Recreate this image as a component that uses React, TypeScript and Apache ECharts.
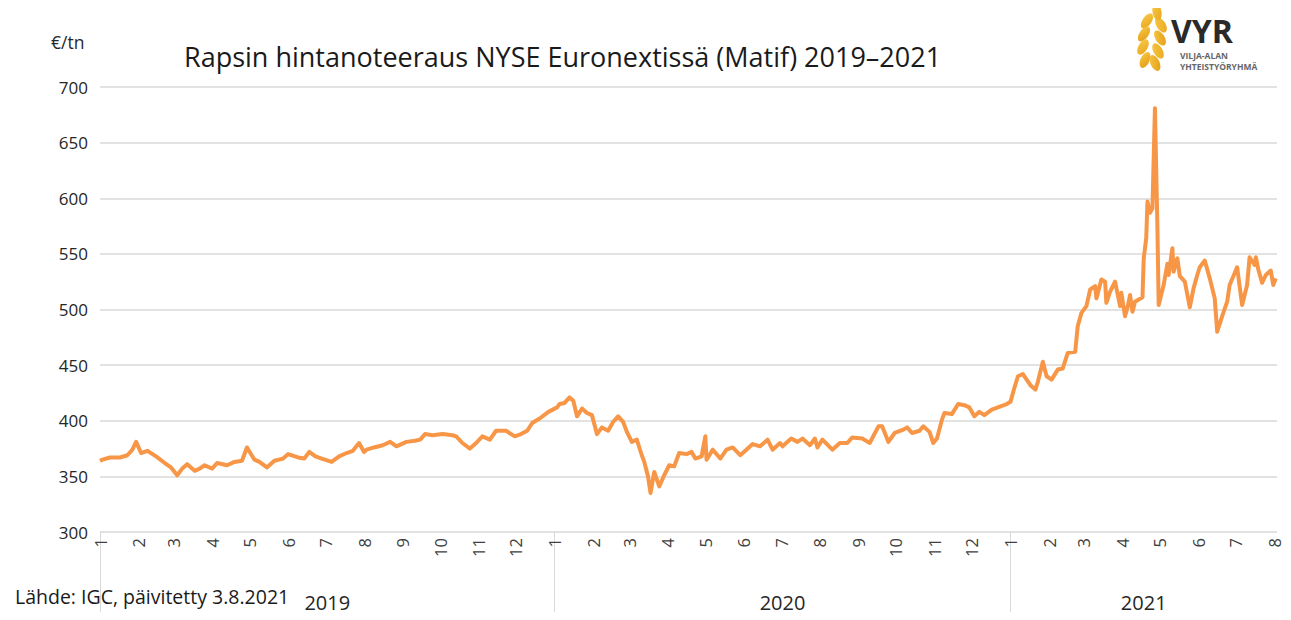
import React, { useEffect, useRef } from "react";
import * as echarts from "echarts";

const priceDates = [
  "2019-01-01","2019-01-03","2019-01-09","2019-01-17","2019-01-23","2019-01-27","2019-01-30","2019-02-03","2019-02-08","2019-02-15",
  "2019-02-22","2019-02-27","2019-03-04","2019-03-08","2019-03-12","2019-03-18","2019-03-22","2019-03-26","2019-04-01","2019-04-05",
  "2019-04-13","2019-04-19","2019-04-25","2019-04-29","2019-05-05","2019-05-09","2019-05-15","2019-05-21","2019-05-28","2019-06-01",
  "2019-06-09","2019-06-14","2019-06-18","2019-06-23","2019-06-28","2019-07-06","2019-07-12","2019-07-18","2019-07-23","2019-07-28",
  "2019-08-01","2019-08-03","2019-08-09","2019-08-16","2019-08-22","2019-08-27","2019-09-04","2019-09-11","2019-09-15","2019-09-19",
  "2019-09-25","2019-10-03","2019-10-11","2019-10-14","2019-10-19","2019-10-25","2019-10-30","2019-11-04","2019-11-10","2019-11-15",
  "2019-11-23","2019-11-30","2019-12-05","2019-12-10","2019-12-14","2019-12-20","2019-12-27","2020-01-03","2020-01-05","2020-01-09",
  "2020-01-13","2020-01-16","2020-01-19","2020-01-23","2020-01-27","2020-01-31","2020-02-04","2020-02-08","2020-02-13","2020-02-17",
  "2020-02-21","2020-02-25","2020-02-28","2020-03-03","2020-03-07","2020-03-11","2020-03-13","2020-03-16","2020-03-18","2020-03-21",
  "2020-03-25","2020-03-29","2020-04-02","2020-04-06","2020-04-10","2020-04-16","2020-04-20","2020-04-23","2020-04-28","2020-05-01",
  "2020-05-02","2020-05-07","2020-05-13","2020-05-18","2020-05-23","2020-05-29","2020-06-03","2020-06-08","2020-06-14","2020-06-20",
  "2020-06-24","2020-06-30","2020-07-02","2020-07-09","2020-07-14","2020-07-18","2020-07-24","2020-07-28","2020-07-30","2020-08-03",
  "2020-08-11","2020-08-17","2020-08-23","2020-08-27","2020-09-04","2020-09-10","2020-09-17","2020-09-20","2020-09-25","2020-09-30",
  "2020-10-07","2020-10-10","2020-10-14","2020-10-20","2020-10-23","2020-10-28","2020-10-31","2020-11-03","2020-11-07","2020-11-09",
  "2020-11-15","2020-11-20","2020-11-25","2020-11-29","2020-12-03","2020-12-07","2020-12-11","2020-12-17","2020-12-24","2020-12-29",
  "2021-01-01","2021-01-04","2021-01-07","2021-01-11","2021-01-17","2021-01-21","2021-01-23","2021-01-27","2021-01-30","2021-02-03",
  "2021-02-08","2021-02-12","2021-02-16","2021-02-22","2021-02-24","2021-02-27","2021-03-03","2021-03-06","2021-03-10","2021-03-11",
  "2021-03-15","2021-03-18","2021-03-19","2021-03-22","2021-03-26","2021-03-30","2021-03-31","2021-04-03","2021-04-05","2021-04-07",
  "2021-04-09","2021-04-11","2021-04-17","2021-04-18","2021-04-20","2021-04-21","2021-04-23","2021-04-25","2021-04-27","2021-04-29",
  "2021-04-30","2021-05-04","2021-05-07","2021-05-08","2021-05-11","2021-05-12","2021-05-15","2021-05-17","2021-05-21","2021-05-25",
  "2021-05-28","2021-05-31","2021-06-02","2021-06-06","2021-06-10","2021-06-14","2021-06-16","2021-06-20","2021-06-24","2021-06-26",
  "2021-07-02","2021-07-06","2021-07-10","2021-07-12","2021-07-16","2021-07-17","2021-07-19","2021-07-22","2021-07-25","2021-07-29",
  "2021-07-31","2021-08-02"
];

const prices = [
  364, 365, 367, 367, 369, 374, 381, 371, 373, 368,
  362, 358, 351, 357, 361, 355, 357, 360, 357, 362,
  360, 363, 364, 376, 365, 363, 358, 364, 366, 370,
  367, 366, 372, 368, 366, 363, 368, 371, 373, 380,
  372, 374, 376, 378, 381, 377, 381, 382, 383, 388,
  387, 388, 387, 386, 380, 375, 380, 386, 383, 391,
  391, 386, 388, 391, 398, 402, 408, 412, 415, 416,
  421, 418, 404, 411, 407, 405, 388, 394, 391, 399,
  404, 399, 390, 381, 383, 369, 363, 350, 335, 354,
  341, 351, 360, 359, 371, 370, 372, 366, 368, 386,
  365, 374, 366, 374, 376, 369, 374, 379, 377, 383,
  374, 380, 377, 384, 381, 384, 378, 384, 376, 383,
  374, 380, 380, 385, 384, 380, 395, 395, 381, 389,
  392, 394, 389, 391, 395, 390, 380, 384, 401, 407,
  406, 415, 414, 412, 404, 408, 405, 410, 413, 415,
  417, 429, 440, 442, 432, 428, 435, 453, 440, 437,
  446, 447, 461, 462, 485, 497, 503, 518, 521, 510,
  527, 525, 506, 516, 525, 503, 515, 494, 502, 513,
  498, 507, 511, 546, 564, 597, 587, 591, 681, 573,
  504, 522, 541, 531, 555, 534, 546, 530, 525, 502,
  519, 531, 538, 544, 528, 510, 480, 494, 507, 522,
  538, 504, 522, 547, 540, 547, 536, 524, 531, 535,
  522, 528
];

const yTicks = [300, 350, 400, 450, 500, 550, 600, 650, 700];
const yearLabels = ["2019", "2020", "2021"];
const yearStarts = ["2019-01-01", "2020-01-01", "2021-01-01"];
const axisStart = "2019-01-01";
const axisEnd = "2021-08-03";
const lastMonthTick = "2021-08-01";

const BASE = Date.parse(axisStart);
const dayOf = (s: string) => (Date.parse(s) - BASE) / 864e5;

const monthTickDates: string[] = [];
{
  let y = 2019, m = 0;
  while (true) {
    const s = `${y}-${String(m + 1).padStart(2, "0")}-01`;
    if (Date.parse(s) > Date.parse(lastMonthTick)) break;
    monthTickDates.push(s);
    m++;
    if (m === 12) { m = 0; y++; }
  }
}

export default function App() {
  const ref = useRef<HTMLDivElement>(null);
  useEffect(() => {
    if (!ref.current) return;
    const chart = echarts.init(ref.current, undefined, { renderer: "svg" });
    const maxDay = dayOf(axisEnd);
    const monthVals = monthTickDates.map(dayOf);
    const yearStartVals = yearStarts.map(dayOf);
    const yearEnds = [...yearStartVals.slice(1), maxDay];
    const yearCenters = yearStartVals.map((s, i) => (s + yearEnds[i]) / 2);
    const data = priceDates.map((d, i) => [dayOf(d), prices[i]]);
    const font = "'Open Sans', sans-serif";

    const kernels: any[] = [];
    const kernelSpecs = [
      [1147, 21, -35], [1144, 34, -35], [1143, 47, -30], [1145, 60, -25],
      [1161, 25, 32], [1160, 38, 32], [1158, 51, 30], [1155, 63, 25],
      [1157, 12, 10],
    ];
    kernelSpecs.forEach(([cx, cy, rot], i) => {
      kernels.push({
        type: "ellipse",
        x: cx, y: cy,
        rotation: (rot * Math.PI) / 180,
        shape: { cx: 0, cy: 0, rx: 4.5, ry: 8.5 },
        style: {
          fill: new echarts.graphic.LinearGradient(0, 0, 1, 1, [
            { offset: 0, color: "#f7c948" },
            { offset: 1, color: i % 2 ? "#e39a12" : "#eaa61c" },
          ]),
        },
      });
    });

    chart.setOption({
      animation: false,
      textStyle: { fontFamily: font },
      title: {
        text: "Rapsin hintanoteeraus NYSE Euronextissä (Matif) 2019–2021",
        left: 179, top: 38,
        textStyle: { fontFamily: font, fontSize: 27, fontWeight: "normal", color: "#1a1a1a" },
      },
      grid: { left: 100, right: 14, top: 87, bottom: 88 },
      xAxis: [
        {
          type: "value", min: 0, max: maxDay,
          axisLine: { show: false },
          splitLine: { show: false },
          axisTick: { show: false },
          axisLabel: {
            customValues: monthVals,
            rotate: 90, margin: 6,
            fontSize: 16.5, color: "#404040", fontFamily: font,
            formatter: (v: number) => {
              const d = new Date(BASE + Math.round(v) * 864e5);
              return String(d.getUTCMonth() + 1);
            },
          },
        },
        {
          type: "value", min: 0, max: maxDay, position: "bottom",
          axisLine: { show: false },
          splitLine: { show: false },
          axisTick: {
            show: true, customValues: yearStartVals, length: 88,
            lineStyle: { color: "#d9d9d9", width: 1 },
          },
          axisLabel: {
            customValues: yearCenters, margin: 60,
            fontSize: 20, color: "#262626", fontFamily: font,
            formatter: (v: number) => {
              let best = 0;
              yearCenters.forEach((c, i) => { if (Math.abs(c - v) < Math.abs(yearCenters[best] - v)) best = i; });
              return yearLabels[best];
            },
          },
        },
      ],
      yAxis: {
        type: "value", min: yTicks[0], max: yTicks[yTicks.length - 1], interval: 50,
        axisLine: { show: false }, axisTick: { show: false },
        axisLabel: { fontSize: 17, color: "#262626", margin: 12, fontFamily: font },
        splitLine: { lineStyle: { color: "#d9d9d9", width: 1.5 } },
      },
      series: [
        {
          type: "line", data, xAxisIndex: 0, showSymbol: false,
          lineStyle: { color: "#f79646", width: 4, join: "round" },
          itemStyle: { color: "#f79646" },
        },
      ],
      graphic: [
        {
          type: "text", left: 51, top: 33,
          style: { text: "€/tn", fontSize: 17.5, fill: "#262626", fontFamily: font },
        },
        {
          type: "text", left: 15, top: 585,
          style: {
            text: "Lähde: IGC, päivitetty 3.8.2021", fontSize: 19.5, fill: "#1a1a1a", fontFamily: font,
            backgroundColor: "#fff", padding: [1, 2, 1, 0],
          },
        },
        { type: "group", children: kernels },
        {
          type: "text", left: 1171, top: 14,
          style: { text: "VYR", fontSize: 32, lineHeight: 32, fontWeight: "bold", fill: "#2a2a2a", fontFamily: font },
        },
        {
          type: "text", left: 1180, top: 51,
          style: { text: "VILJA-ALAN", fontSize: 8.5, lineHeight: 9, fontWeight: "bold", fill: "#666", fontFamily: font },
        },
        {
          type: "text", left: 1180, top: 62,
          style: { text: "YHTEISTYÖRYHMÄ", fontSize: 8.5, lineHeight: 9, fontWeight: "bold", fill: "#666", fontFamily: font },
        },
      ],
    });
    return () => chart.dispose();
  }, []);
  return <div ref={ref} style={{ width: 1291, height: 620, margin: -8 }} />;
}
